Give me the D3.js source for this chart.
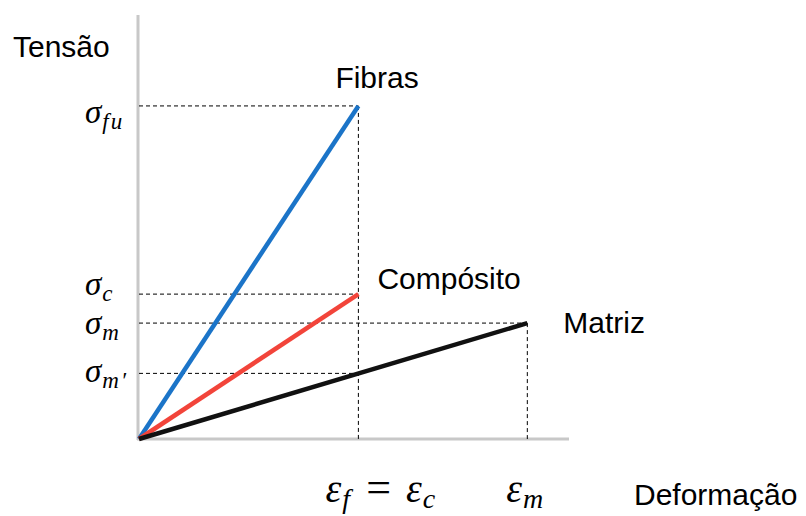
<!DOCTYPE html>
<html>
<head>
  <meta charset="utf-8">
  <title>Tensão x Deformação</title>
  <script src="https://d3js.org/d3.v7.min.js"></script>
  <style>
    body { margin: 0; background: #fff; }
    .word { font-family: "Liberation Sans", Arial, sans-serif; font-size: 30px; fill: #000; }
    .math { font-family: "Liberation Serif", "Times New Roman", serif; font-style: italic; fill: #000; }
  </style>
</head>
<body>
  <svg width="806" height="516"></svg>
  <script>
// dados (deformação relativa a εf, tensão relativa a σfu)
const seriesNames = ["Fibras", "Compósito", "Matriz"];
const seriesStrain = [1, 1, 1.77];
const seriesStress = [1, 0.435, 0.348];
const seriesColors = ["#1b74c8", "#f2443a", "#111111"];

// marcas no eixo das tensões
const stressMain = ["σ", "σ", "σ", "σ"];
const stressSub = ["fu", "c", "m", "m′"];
const stressValues = [1, 0.435, 0.348, 0.197];
const stressReach = [1, 1, 1.77, 1];   // até onde vai a linha tracejada

// marcas no eixo das deformações
const strainValues = [1, 1.77];
const strainTop = [1, 0.348];

const svg = d3.select('svg');

const x = d3.scaleLinear().domain([0, 1.96]).range([139, 569]);
const y = d3.scaleLinear().domain([0, 1.273]).range([439, 15]);

// eixos (linhas cinzentas simples)
svg.append('line')
  .attr('x1', x(0) - 1).attr('x2', x(0) - 1)
  .attr('y1', y(1.273)).attr('y2', y(0) + 1)
  .attr('stroke', '#c8c8c8').attr('stroke-width', 3);
svg.append('line')
  .attr('x1', x(0) - 2).attr('x2', x(1.96))
  .attr('y1', y(0)).attr('y2', y(0))
  .attr('stroke', '#c8c8c8').attr('stroke-width', 3);

// tracejados horizontais
svg.selectAll('.hdash').data(stressValues).join('line')
  .attr('class', 'hdash')
  .attr('x1', x(0)).attr('x2', (d, i) => x(stressReach[i]))
  .attr('y1', d => y(d)).attr('y2', d => y(d))
  .attr('stroke', '#000').attr('stroke-width', 1)
  .attr('stroke-dasharray', '4,3');

// tracejados verticais
svg.selectAll('.vdash').data(strainValues).join('line')
  .attr('class', 'vdash')
  .attr('x1', d => x(d)).attr('x2', d => x(d))
  .attr('y1', (d, i) => y(strainTop[i])).attr('y2', y(0))
  .attr('stroke', '#000').attr('stroke-width', 1)
  .attr('stroke-dasharray', '4,3');

// retas tensão-deformação
const line = d3.line().x(d => x(d[0])).y(d => y(d[1]));
seriesNames.forEach((name, i) => {
  svg.append('path')
    .datum([[0, 0], [seriesStrain[i], seriesStress[i]]])
    .attr('fill', 'none')
    .attr('stroke', seriesColors[i])
    .attr('stroke-width', 4.5)
    .attr('d', line);
});

// nomes das curvas
const nameDx = [-23, 19, 36];
const nameDy = [-18, -5, 10];
svg.selectAll('.sname').data(seriesNames).join('text')
  .attr('class', 'word')
  .attr('x', (d, i) => x(seriesStrain[i]) + nameDx[i])
  .attr('y', (d, i) => y(seriesStress[i]) + nameDy[i])
  .text(d => d);

// rótulos do eixo das tensões
const labelDy = [17, 1, 11, 9];
const sLab = svg.selectAll('.slab').data(stressValues).join('text')
  .attr('class', 'math')
  .attr('x', 85)
  .attr('y', (d, i) => y(d) + labelDy[i])
  .attr('font-size', 33);
sLab.append('tspan').text((d, i) => stressMain[i]);
sLab.append('tspan').attr('font-size', 23).attr('dx', 1).attr('dy', 6)
  .attr('letter-spacing', 2).text((d, i) => stressSub[i]);

// rótulos do eixo das deformações
const eLab = svg.append('g').attr('class', 'math').attr('font-size', 40);
const t1 = eLab.append('text').attr('x', x(strainValues[0]) + 22).attr('y', 502).attr('text-anchor', 'middle');
t1.append('tspan').text('ε');
t1.append('tspan').attr('font-size', 28).attr('dx', 1).attr('dy', 6).text('f');
t1.append('tspan').attr('dx', 16).attr('dy', -6).attr('font-style', 'normal')
  .attr('font-size', 44).text('=');
t1.append('tspan').attr('dx', 15).text('ε');
t1.append('tspan').attr('font-size', 28).attr('dx', 1).attr('dy', 6).text('c');
const t2 = eLab.append('text').attr('x', x(strainValues[1]) - 2).attr('y', 502).attr('text-anchor', 'middle');
t2.append('tspan').text('ε');
t2.append('tspan').attr('font-size', 28).attr('dx', 1).attr('dy', 6).attr('letter-spacing', 1).text('m');

// títulos dos eixos
svg.append('text').attr('class', 'word').attr('x', 13).attr('y', 57).text('Tensão');
svg.append('text').attr('class', 'word').attr('x', 634).attr('y', 505).text('Deformação');
  </script>
</body>
</html>
